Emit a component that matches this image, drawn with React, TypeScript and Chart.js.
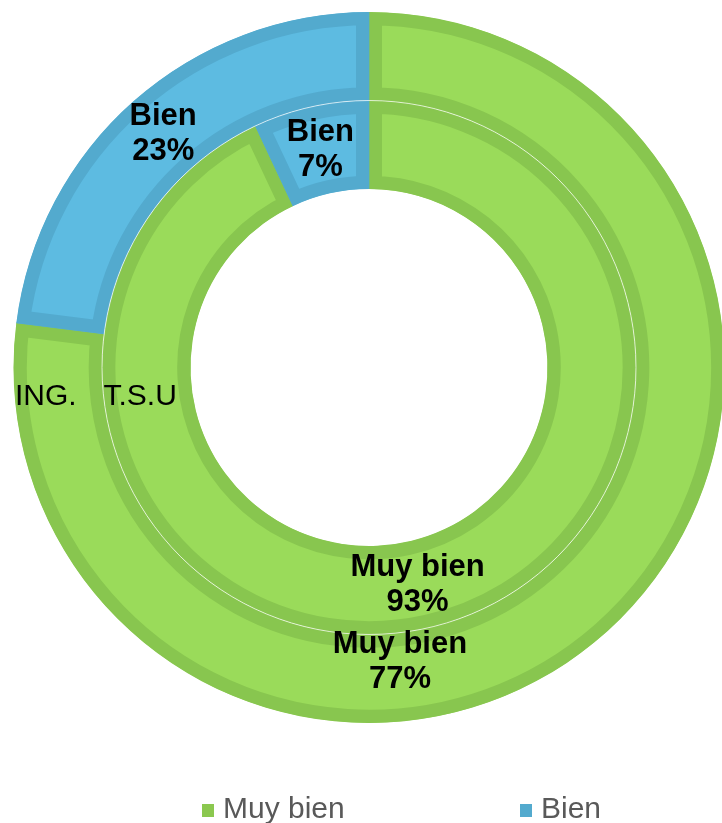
import React, { useEffect, useRef } from 'react';
import { Chart, registerables } from 'chart.js';

Chart.register(...registerables);

// ---- data ----
const categories = ['Muy bien', 'Bien'];
const ringNames = ['ING.', 'T.S.U'];
const ingValues = [77, 23];
const tsuValues = [93, 7];

// ---- styles ----
const fillColors = ['#9ADB5A', '#5DBBE1'];
const borderColors = ['#88C64F', '#53AACE'];
const legendColors = ['#8BC84F', '#53AACE'];
const FONT = '"Liberation Sans", Arial, Helvetica, sans-serif';

// label placement overrides: angle (deg clockwise from top), radial fraction within ring
const labelOverrides: Record<string, { angleDeg: number; rFrac: number }> = {
  '0-0': { angleDeg: 174, rFrac: 0.33 },
};

const legendXs = [202, 520];

const overlayPlugin = {
  id: 'overlayLabels',
  afterDatasetsDraw(chart: any) {
    const ctx = chart.ctx as CanvasRenderingContext2D;
    ctx.save();
    const outerMeta = chart.getDatasetMeta(0);
    const a0 = outerMeta.data[0].getProps(['x', 'y', 'innerRadius', 'outerRadius'], true);
    const cx = a0.x;
    const cy = a0.y;

    // thin separator between rings
    ctx.strokeStyle = 'rgba(255,255,255,0.7)';
    ctx.lineWidth = 1;
    ctx.beginPath();
    ctx.arc(cx, cy, a0.innerRadius, 0, Math.PI * 2);
    ctx.stroke();

    // value labels
    ctx.fillStyle = '#000000';
    ctx.font = `bold 31px ${FONT}`;
    ctx.textAlign = 'center';
    ctx.textBaseline = 'middle';
    chart.data.datasets.forEach((ds: any, di: number) => {
      const meta = chart.getDatasetMeta(di);
      meta.data.forEach((arc: any, i: number) => {
        const p = arc.getProps(['x', 'y', 'startAngle', 'endAngle', 'innerRadius', 'outerRadius'], true);
        let ang = (p.startAngle + p.endAngle) / 2;
        let r = (p.innerRadius + p.outerRadius) / 2;
        const o = labelOverrides[`${di}-${i}`];
        if (o) {
          ang = -Math.PI / 2 + (o.angleDeg * Math.PI) / 180;
          r = p.innerRadius + o.rFrac * (p.outerRadius - p.innerRadius);
        }
        const x = p.x + Math.cos(ang) * r;
        const y = p.y + Math.sin(ang) * r;
        ctx.fillText(categories[i], x, y - 17.5);
        ctx.fillText(`${ds.data[i]}%`, x, y + 17.5);
      });
    });

    // ring names
    ctx.font = `30px ${FONT}`;
    ctx.textAlign = 'left';
    chart.data.datasets.forEach((ds: any, di: number) => {
      const meta = chart.getDatasetMeta(di);
      const p = meta.data[0].getProps(['outerRadius'], true);
      ctx.fillText(ds.label, cx - p.outerRadius + 1.5, cy + 29);
    });

    // legend
    ctx.font = `30px ${FONT}`;
    ctx.textBaseline = 'alphabetic';
    categories.forEach((c, i) => {
      const lx = legendXs[i];
      ctx.fillStyle = legendColors[i];
      ctx.fillRect(lx, 804, 12, 13);
      ctx.fillStyle = '#595959';
      ctx.fillText(c, lx + 21, 818);
    });
    ctx.restore();
  },
};

export default function App() {
  const ref = useRef<HTMLCanvasElement | null>(null);

  useEffect(() => {
    if (!ref.current) return;
    const ring = (label: string, data: number[]) =>
      ({
        label,
        data,
        backgroundColor: fillColors,
        borderColor: borderColors,
        borderWidth: 13,
        borderAlign: 'inner',
        borderJoinStyle: 'miter',
        hoverOffset: 0,
      } as any);
    const chart = new Chart(ref.current, {
      type: 'doughnut',
      data: {
        labels: categories,
        datasets: [ring(ringNames[0], ingValues), ring(ringNames[1], tsuValues)],
      },
      options: {
        responsive: false,
        devicePixelRatio: 1,
        animation: false,
        events: [],
        cutout: '50.2%',
        layout: { padding: { left: 13.5, right: 15.5, top: 12, bottom: 100 } },
        plugins: {
          legend: { display: false },
          tooltip: { enabled: false },
        },
      } as any,
      plugins: [overlayPlugin],
    });
    return () => chart.destroy();
  }, []);

  return (
    <div
      style={{
        position: 'absolute',
        left: 0,
        top: 0,
        width: 722,
        height: 823,
        overflow: 'hidden',
        background: '#ffffff',
      }}
    >
      <canvas ref={ref} width={740} height={823} style={{ display: 'block', width: 740, height: 823 }} />
    </div>
  );
}
